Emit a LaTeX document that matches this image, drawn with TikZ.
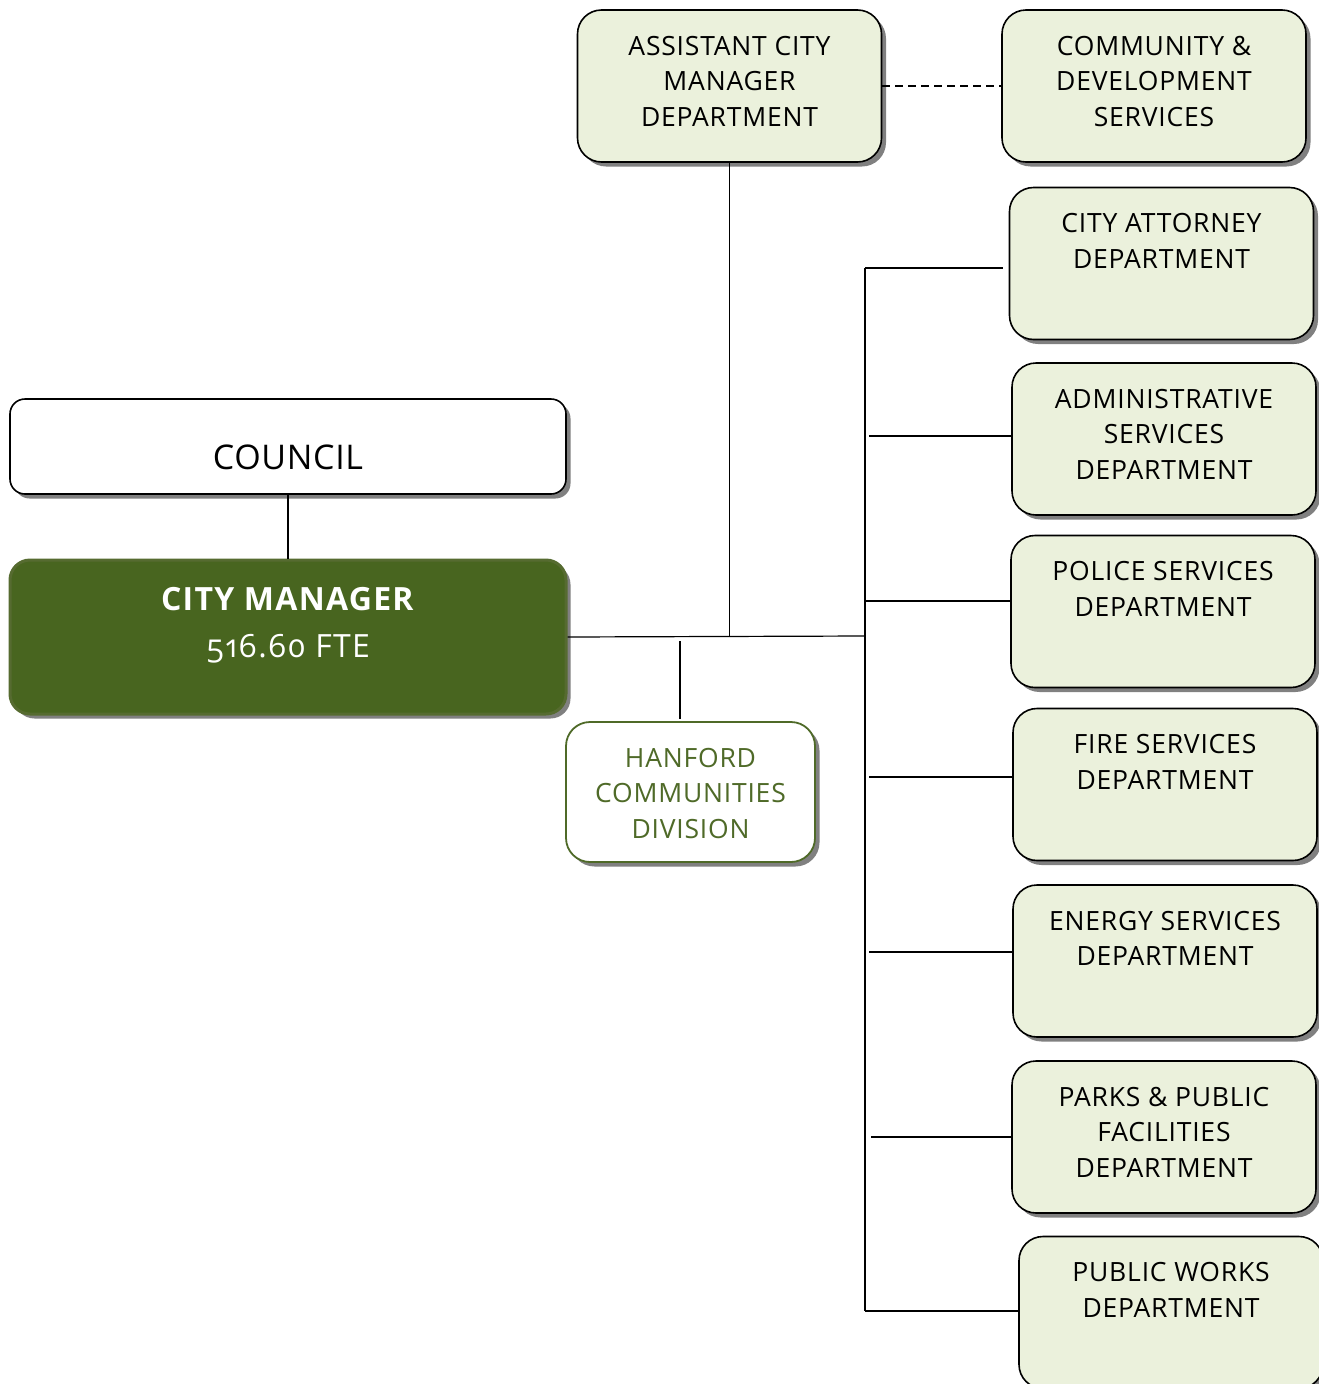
\documentclass[tikz,border=0pt]{standalone}
\usepackage{fontspec}
\setmainfont{Open Sans}[Numbers=OldStyle]
\usetikzlibrary{shadows}
\definecolor{deptfill}{HTML}{EBF1DC}
\definecolor{mgrfill}{HTML}{48651F}
\definecolor{mgredge}{HTML}{566B30}
\definecolor{olive}{HTML}{4F6A28}
\tikzset{
  x=1pt, y=-1pt,
  boxshadow/.style={drop shadow={shadow xshift=4.5pt, shadow yshift=-4.5pt, fill=black!50, opacity=1}},
  dept/.style={draw=black, line width=1.6pt, rounded corners=24pt, fill=deptfill,
    minimum width=304pt, minimum height=152pt, inner sep=0pt, boxshadow},
  depttext/.style={anchor=north, yshift=-26.5pt, align=center, inner sep=0pt,
    font=\fontsize{26.5}{35.5}\selectfont\addfontfeature{LetterSpace=3}},
  link/.style={line width=1.2pt, draw=black},
  thicklink/.style={line width=2.2pt, draw=black}
}
\begin{document}
\begin{tikzpicture}
\useasboundingbox (0,0) rectangle (1319,1384);

% council and city manager
\node[draw=black, line width=1.6pt, rounded corners=15pt, fill=white,
  minimum width=556pt, minimum height=95pt, inner sep=0pt, boxshadow] (council) at (288,446.5) {};
\node[inner sep=0pt, font=\fontsize{34}{40}\selectfont\addfontfeature{LetterSpace=2}] (councilt) at (288,457) {COUNCIL};

\node[draw=mgredge, line width=3pt, rounded corners=20pt, fill=mgrfill,
  minimum width=556pt, minimum height=154pt, inner sep=0pt, boxshadow] (cm) at (288,637) {};
\node[inner sep=0pt, align=center, text=white, anchor=north,
  font=\fontsize{32}{47}\selectfont\addfontfeature{LetterSpace=4}] (cmt) at (288,587)
  {\textbf{CITY MANAGER}\\516.60 FTE};

% departments
\node[dept] (acm)    at (729.5,86)   {};
\node[dept] (comm)   at (1154,86)    {};
\node[dept] (atty)   at (1161.5,263.5) {};
\node[dept] (admin)  at (1164,439)   {};
\node[dept] (police) at (1163,611.5) {};
\node[dept] (fire)   at (1165,784.5) {};
\node[dept] (energy) at (1165,961)   {};
\node[dept] (parks)  at (1164,1137)  {};
\node[dept] (pw)     at (1171,1312.5) {};

\node[depttext] (acmt)    at (acm.north)    {ASSISTANT CITY\\MANAGER\\DEPARTMENT};
\node[depttext] (commt)   at (comm.north)   {COMMUNITY \&\\DEVELOPMENT\\SERVICES};
\node[depttext] (attyt)   at (atty.north)   {CITY ATTORNEY\\DEPARTMENT};
\node[depttext] (admint)  at (admin.north)  {ADMINISTRATIVE\\SERVICES\\DEPARTMENT};
\node[depttext] (policet) at (police.north) {POLICE SERVICES\\DEPARTMENT};
\node[depttext] (firet)   at (fire.north)   {FIRE SERVICES\\DEPARTMENT};
\node[depttext] (energyt) at (energy.north) {ENERGY SERVICES\\DEPARTMENT};
\node[depttext] (parkst)  at (parks.north)  {PARKS \& PUBLIC\\FACILITIES\\DEPARTMENT};
\node[depttext] (pwt)     at (pw.north)     {PUBLIC WORKS\\DEPARTMENT};

% division
\node[draw=olive, line width=1.8pt, rounded corners=24pt, fill=white,
  minimum width=249pt, minimum height=140pt, inner sep=0pt, boxshadow] (hcd) at (690.5,792) {};
\node[depttext, text=olive] (hcdt) at (hcd.north) {HANFORD\\COMMUNITIES\\DIVISION};

% connectors
\coordinate (j)  at (865,636);
\coordinate (bt) at (865,268);
\coordinate (bb) at (865,1311);
\coordinate (b2) at (869,436);
\coordinate (b3) at (865,601);
\coordinate (b4) at (869,777);
\coordinate (b5) at (869,952);
\coordinate (b6) at (871,1137);
\coordinate (h)  at (680,641);

\draw[thicklink] (council.south) -- (cm.north);
\draw[link] (cm.east) -- (j);
\draw[link] (acm.south) -- (acm.south |- j);
\draw[link] (bt) -- (bb);
\draw[link, shorten >=6pt] (bt) -- (atty.west |- bt);
\draw[link] (b2) -- (admin.west |- b2);
\draw[link] (b3) -- (police.west |- b3);
\draw[link] (b4) -- (fire.west |- b4);
\draw[link] (b5) -- (energy.west |- b5);
\draw[link] (b6) -- (parks.west |- b6);
\draw[link] (bb) -- (pw.west |- bb);
\draw[thicklink, shorten >=2pt] (h) -- (h |- hcd.north);
\draw[link, dash pattern=on 8pt off 5pt] (acm.east) -- (comm.west);
\end{tikzpicture}
\end{document}
